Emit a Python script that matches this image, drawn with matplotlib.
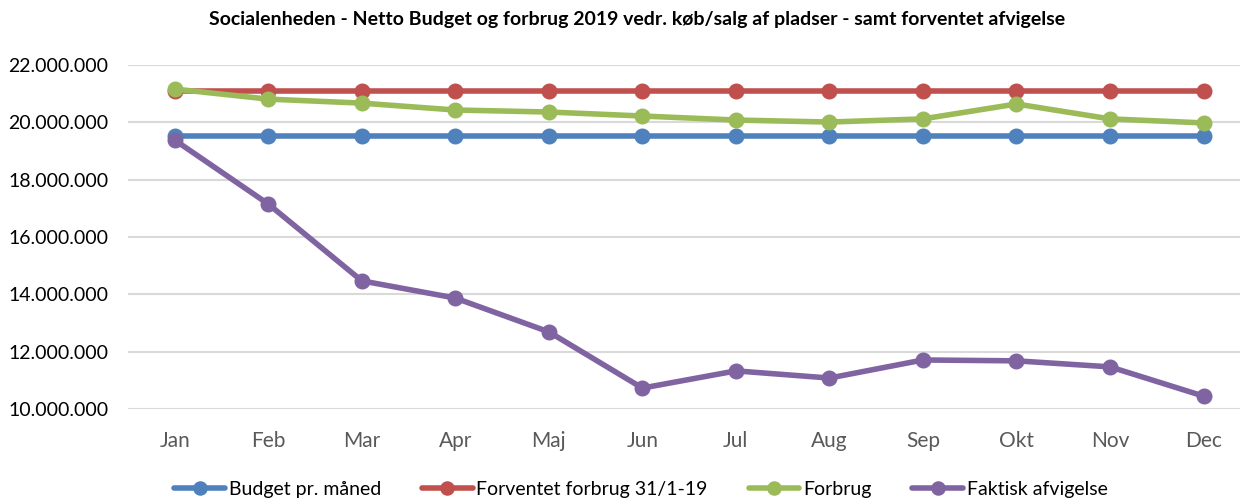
import matplotlib
matplotlib.use("Agg")
import matplotlib.pyplot as plt
from matplotlib.ticker import FuncFormatter, MultipleLocator

months = ["Jan", "Feb", "Mar", "Apr", "Maj", "Jun", "Jul", "Aug", "Sep", "Okt", "Nov", "Dec"]
budget = [19520000] * 12
forventet = [21090000] * 12
forbrug = [21160000, 20810000, 20670000, 20430000, 20360000, 20220000,
           20080000, 20010000, 20120000, 20640000, 20120000, 19980000]
faktisk = [19380000, 17150000, 14470000, 13870000, 12690000, 10730000,
           11330000, 11080000, 11710000, 11680000, 11470000, 10450000]

series = [
    ("Budget pr. måned", budget, "#4F81BD"),
    ("Forventet forbrug 31/1-19", forventet, "#C0504D"),
    ("Forbrug", forbrug, "#9BBB59"),
    ("Faktisk afvigelse", faktisk, "#8064A2"),
]

plt.rcParams['font.family'] = ['Lato', 'DejaVu Sans']

fig = plt.figure(figsize=(12.4, 5.01), dpi=100)
ax = fig.add_axes([128 / 1240, 1 - 409 / 501, 1 - 128 / 1240, (409 - 65) / 501])

x = list(range(len(months)))
for name, vals, col in series:
    ax.plot(x, vals, color=col, lw=4, marker='o', markersize=10.5, label=name,
            solid_capstyle='round', clip_on=False, zorder=3)

ax.set_ylim(10000000, 22000000)
ax.set_xlim(-0.5, 11.39)
ax.yaxis.set_major_locator(MultipleLocator(2000000))
ax.yaxis.set_major_formatter(FuncFormatter(lambda v, p: f"{int(v):,}".replace(",", ".")))
ax.set_xticks(x)
ax.set_xticklabels(months)
ax.grid(axis='y', color='#D9D9D9', lw=1.5, zorder=0)
for s in ax.spines.values():
    s.set_visible(False)
ax.tick_params(axis='y', length=0, labelsize=14, colors='#595959', pad=14)
ax.tick_params(axis='x', length=0, labelsize=15, colors='#595959', pad=16)
for lbl in ax.get_yticklabels():
    lbl.set_color('black')

fig.text(637 / 1240, 1 - 19 / 501, "Socialenheden - Netto Budget og forbrug 2019 vedr. køb/salg af pladser - samt forventet afvigelse",
         ha='center', va='center', fontsize=14, fontweight='bold', color='black')

fig.legend(loc='center', bbox_to_anchor=(641 / 1240, 1 - 489 / 501), ncol=4, frameon=False,
           fontsize=14, handlelength=2.6, columnspacing=2.1, handletextpad=0.2, borderaxespad=0,
           markerscale=0.9)

fig.savefig("out.png", dpi=100)
